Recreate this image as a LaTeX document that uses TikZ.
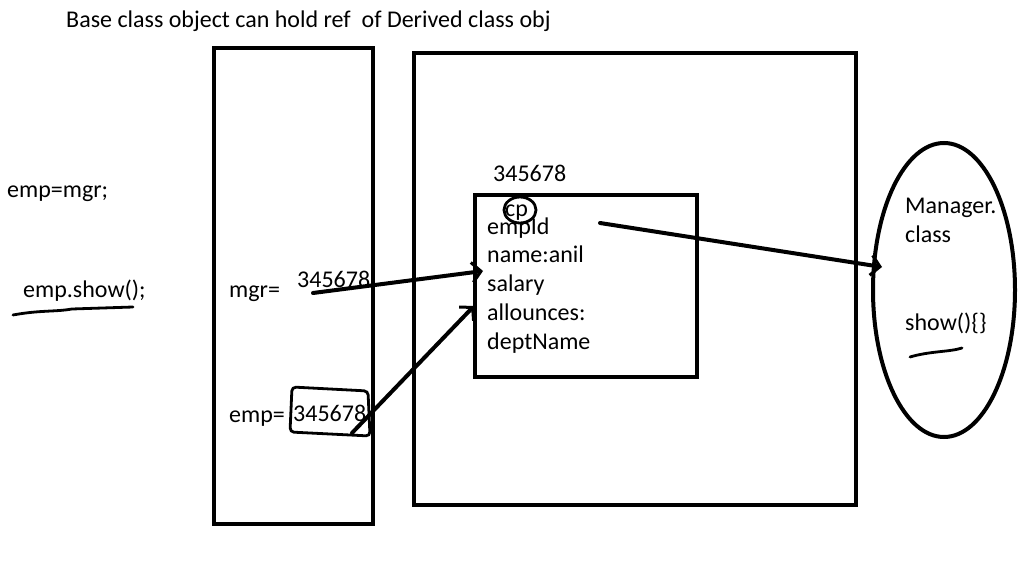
\documentclass[tikz,border=0pt]{standalone}
\usepackage{fontspec}
\setmainfont{Carlito}
\usetikzlibrary{arrows.meta,positioning,shapes.geometric}

\begin{document}
\begin{tikzpicture}[x=1pt,y=-1pt,every node/.style={font=\fontsize{24}{28}\selectfont,inner sep=0pt},
 box/.style={draw,line width=4pt},
 txt/.style={anchor=base west},
 ref/.style={line width=4pt,line cap=round,-{Straight Barb[length=9pt,width=20pt,line width=3pt]}},
 scribble/.style={line width=2.8pt,line cap=round}]
\useasboundingbox (0,0) rectangle (1018,567);
% memory areas
\node[box,minimum width=159pt,minimum height=476pt] (stack) at (293.5,286) {};
\node[box,minimum width=442pt,minimum height=452pt] (heap) at (635,279) {};
\node[box,minimum width=222pt,minimum height=182pt] (obj) at (586,286) {};
\node[box,ellipse,minimum width=142pt,minimum height=294pt] (cls) at (944,290) {};
% texts
\node[txt] (title) at (66,28) {Base class object can hold ref\ \ of Derived class obj};
\node[txt] (assign) at (7,197) {emp=mgr;};
\node[txt] (call) at (23,297) {emp.show();};
\node[txt] (mgrlbl) at (229,297) {mgr=};
\node[txt] (mgrval) at (297,287) {345678};
\node[txt] (emplbl) at (229,422) {emp=};
\node[txt] (empval) at (293,421) {345678};
\node[txt] (addr) at (493,182) {345678};
\node[txt] (cp) at (505,216) {cp};
\foreach \y/\f [count=\i] in {234/empId,262/name:anil,291/salary,320/allounces:,349/deptName}
  {\node[txt] (f\i) at (487,\y) {\f};}
\node[txt] (mname) at (905,214) {Manager.};
\node[txt] (mclass) at (905,242) {class};
\node[txt] (mshow) at (905,330) {show()\{\}};
% marks
\draw[scribble] (520,210) ellipse [x radius=16pt,y radius=13pt];
\draw[scribble,rounded corners=4pt] (292,387) -- (368,391) -- (370,436) -- (290,432) -- cycle;
\draw[scribble] (13,315) .. controls (40,310) and (55,312) .. (72,309) -- (133,307);
\draw[scribble] (910,357) .. controls (930,351) and (950,352) .. (962,348);
% references
\coordinate (p1) at (313,293);
\coordinate (q1) at (483,271);
\coordinate (p2) at (352,433);
\coordinate (q2) at (474,306);
\coordinate (p3) at (600,223);
\coordinate (q3) at (882,267);
\draw[ref] (p1) -- (q1);
\draw[ref] (p2) -- (q2);
\draw[ref] (p3) -- (q3);
\end{tikzpicture}
\end{document}
